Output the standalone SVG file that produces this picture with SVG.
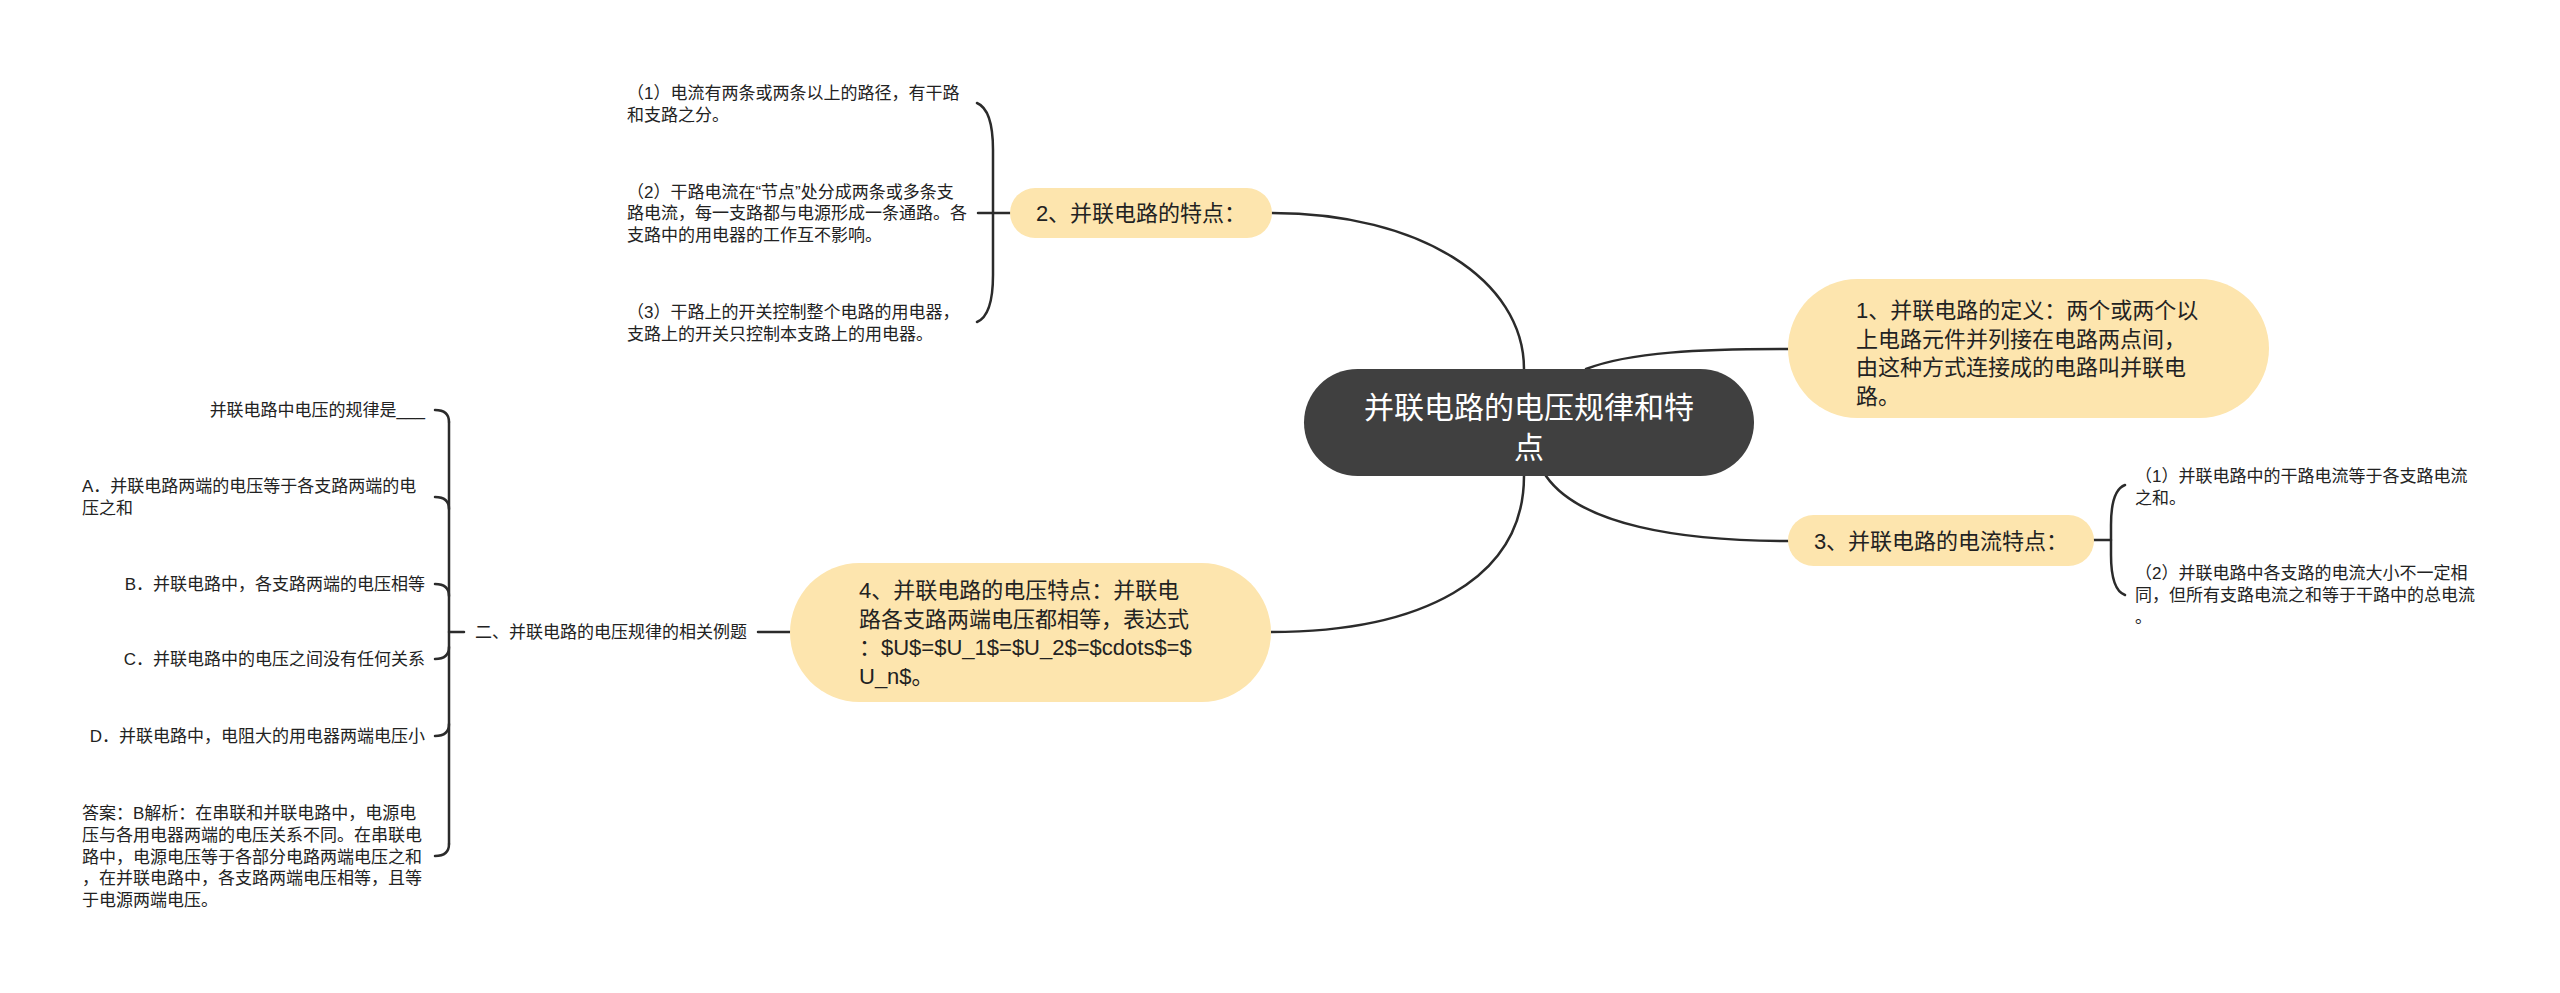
<svg xmlns="http://www.w3.org/2000/svg" width="2560" height="993" viewBox="0 0 2560 993">
<style>
text{font-family:"Liberation Sans","Noto Sans CJK SC",sans-serif;fill:#222;dominant-baseline:central}
.ctr{fill:#ffffff;font-size:30px;text-anchor:middle}
.main{font-size:22px}
.mid{text-anchor:middle}
.sub{font-size:17px}
.end{text-anchor:end}
.node{fill:#fde5ae}
.line{fill:none;stroke:#2b2b2b;stroke-width:2.5;stroke-linecap:round}
</style>
<rect width="2560" height="993" fill="#ffffff"/>
<g id="connectors">
<path class="line" d="M1272,213 C1420,213 1524,280 1524,369"/>
<path class="line" d="M1586,369 C1630,352 1700,349 1788,349"/>
<path class="line" d="M1546,476 C1580,525 1680,541 1788,541"/>
<path class="line" d="M1524,476 C1524,580 1420,632 1271,632"/>
<path class="line" d="M978,213 L1010,213"/>
<path class="line" d="M977,103 C989,108 993,125 993,150 L993,275 C993,300 989,317 977,322"/>
<path class="line" d="M2093,540 L2111,540"/>
<path class="line" d="M2125,485 C2114,489 2111,505 2111,525 L2111,555 C2111,575 2114,591 2125,595"/>
<path class="line" d="M758,632 L790,632"/>
<path class="line" d="M449,632 L464,632"/>
<path class="line" d="M449,422 L449,844"/>
<path class="line" d="M435,410 Q449,410 449,422"/>
<path class="line" d="M435,497 Q449,497 449,509"/>
<path class="line" d="M435,584 Q449,584 449,596"/>
<path class="line" d="M435,659 Q449,659 449,647"/>
<path class="line" d="M435,736 Q449,736 449,724"/>
<path class="line" d="M435,856 Q449,856 449,844"/>
</g>
<g id="center">
<rect x="1304" y="369" width="450" height="107" rx="53.5" fill="#404040"/>
<text class="ctr" x="1529" y="407">并联电路的电压规律和特</text>
<text class="ctr" x="1529" y="447">点</text>
</g>
<g id="n1">
<rect class="node" x="1788" y="279" width="481" height="139" rx="69.5"/>
<text class="main" x="1856" y="310">1、并联电路的定义：两个或两个以</text>
<text class="main" x="1856" y="339">上电路元件并列接在电路两点间，</text>
<text class="main" x="1856" y="367">由这种方式连接成的电路叫并联电</text>
<text class="main" x="1856" y="396">路。</text>
</g>
<g id="n2">
<rect class="node" x="1010" y="188" width="262" height="50" rx="25"/>
<text class="main mid" x="1141" y="213">2、并联电路的特点：</text>
</g>
<g id="n2c1">
<text class="sub" x="627" y="93">（1）电流有两条或两条以上的路径，有干路</text>
<text class="sub" x="627" y="115">和支路之分。</text>
</g>
<g id="n2c2">
<text class="sub" x="627" y="192">（2）干路电流在“节点”处分成两条或多条支</text>
<text class="sub" x="627" y="213">路电流，每一支路都与电源形成一条通路。各</text>
<text class="sub" x="627" y="235">支路中的用电器的工作互不影响。</text>
</g>
<g id="n2c3">
<text class="sub" x="627" y="312">（3）干路上的开关控制整个电路的用电器，</text>
<text class="sub" x="627" y="334">支路上的开关只控制本支路上的用电器。</text>
</g>
<g id="n3">
<rect class="node" x="1788" y="515" width="306" height="51" rx="25.5"/>
<text class="main mid" x="1941" y="541">3、并联电路的电流特点：</text>
</g>
<g id="n3c1">
<text class="sub" x="2135" y="476">（1）并联电路中的干路电流等于各支路电流</text>
<text class="sub" x="2135" y="498">之和。</text>
</g>
<g id="n3c2">
<text class="sub" x="2135" y="573">（2）并联电路中各支路的电流大小不一定相</text>
<text class="sub" x="2135" y="595">同，但所有支路电流之和等于干路中的总电流</text>
<text class="sub" x="2135" y="617">。</text>
</g>
<g id="n4">
<rect class="node" x="790" y="563" width="481" height="139" rx="69.5"/>
<text class="main" x="859" y="590">4、并联电路的电压特点：并联电</text>
<text class="main" x="859" y="619">路各支路两端电压都相等，表达式</text>
<text class="main" x="859" y="647">：$U$=$U_1$=$U_2$=$cdots$=$</text>
<text class="main" x="859" y="676">U_n$。</text>
</g>
<g id="n4c1">
<text class="sub" x="475" y="632">二、并联电路的电压规律的相关例题</text>
</g>
<g id="q0">
<text class="sub end" x="425" y="410">并联电路中电压的规律是___</text>
</g>
<g id="qa">
<text class="sub" x="82" y="486">A．并联电路两端的电压等于各支路两端的电</text>
<text class="sub" x="82" y="508">压之和</text>
</g>
<g id="qb">
<text class="sub end" x="425" y="584">B．并联电路中，各支路两端的电压相等</text>
</g>
<g id="qc">
<text class="sub end" x="425" y="659">C．并联电路中的电压之间没有任何关系</text>
</g>
<g id="qd">
<text class="sub end" x="425" y="736">D．并联电路中，电阻大的用电器两端电压小</text>
</g>
<g id="ans">
<text class="sub" x="82" y="813">答案：B解析：在串联和并联电路中，电源电</text>
<text class="sub" x="82" y="835">压与各用电器两端的电压关系不同。在串联电</text>
<text class="sub" x="82" y="857">路中，电源电压等于各部分电路两端电压之和</text>
<text class="sub" x="82" y="878">，在并联电路中，各支路两端电压相等，且等</text>
<text class="sub" x="82" y="900">于电源两端电压。</text>
</g>
</svg>
